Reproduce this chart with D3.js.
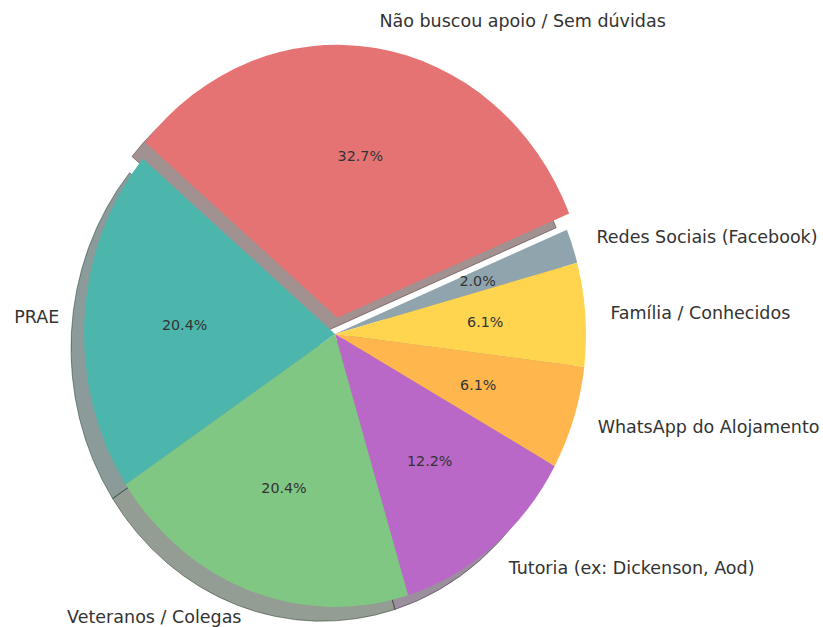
<!DOCTYPE html>
<html>
<head>
  <meta charset="utf-8">
  <title>Apoio</title>
  <script src="https://cdn.jsdelivr.net/npm/d3@7"></script>
  <style>
    body { margin: 0; background: #fff; }
    text { font-family: "DejaVu Sans", sans-serif; fill: #333; }
  </style>
</head>
<body>
  <svg width="823" height="627"></svg>
<script>

// slices in drawing order (clockwise from the start angle)
const labels = [
  'Não buscou apoio / Sem dúvidas',
  'Redes Sociais (Facebook)',
  'Família / Conhecidos',
  'WhatsApp do Alojamento',
  'Tutoria (ex: Dickenson, Aod)',
  'Veteranos / Colegas',
  'PRAE'
];
const counts = [16, 1, 3, 3, 6, 10, 10];
const colors = ['#e57373', '#90a4ae', '#ffd54f', '#ffb74d', '#ba68c8', '#81c784', '#4db6ac'];
const explode = [0.06, 0, 0, 0, 0, 0, 0];

const startDeg = 140;   // angle of the first edge, counted like matplotlib
const shadowOff = 0.052;

let svg = d3.select('svg');

// pie is slightly taller than wide in the picture
let x = d3.scaleLinear().domain([-1, 1]).range([335 - 251, 335 + 251]);
let y = d3.scaleLinear().domain([-1, 1]).range([334 + 273, 334 - 273]);

let total = d3.sum(counts);
let pie = d3.pie().sort(null).value(d => d)
  .startAngle((90 - startDeg) * Math.PI / 180)
  .endAngle((90 - startDeg + 360) * Math.PI / 180);
let arcs = pie(counts);

let arc = d3.arc().innerRadius(0).outerRadius(1);

// matplotlib style angle (ccw from +x) of a slice middle
let midAngle = a => Math.PI / 2 - (a.startAngle + a.endAngle) / 2;

let sx = (x(1) - x(-1)) / 2;
let sy = (y(-1) - y(1)) / 2;

let place = (a, i, dx, dy) => {
  let m = midAngle(a);
  let ox = explode[i] * Math.cos(m) + dx;
  let oy = explode[i] * Math.sin(m) + dy;
  return 'translate(' + x(ox) + ',' + y(oy) + ') scale(' + sx + ',' + sy + ')';
};

let shade = c => {
  let k = d3.rgb(c);
  return d3.rgb(k.r * 0.3, k.g * 0.3, k.b * 0.3);
};

// shadows first, under every wedge
arcs.forEach((a, i) => {
  svg.append('path')
    .attr('d', arc(a))
    .attr('transform', place(a, i, -shadowOff, -shadowOff))
    .style('fill', shade(colors[i]))
    .style('fill-opacity', 0.5)
    .style('stroke', shade(colors[i]))
    .style('stroke-opacity', 0.5)
    .style('stroke-width', 1)
    .attr('vector-effect', 'non-scaling-stroke');
});

arcs.forEach((a, i) => {
  svg.append('path')
    .attr('d', arc(a))
    .attr('transform', place(a, i, 0, 0))
    .style('fill', colors[i])
    .style('stroke', 'none');
});

// labels and percentages
arcs.forEach((a, i) => {
  let m = midAngle(a);
  let ex = explode[i] * Math.cos(m);
  let ey = explode[i] * Math.sin(m);
  let lx = ex + 1.1 * Math.cos(m);
  let ly = ey + 1.1 * Math.sin(m);
  svg.append('text')
    .attr('x', x(lx))
    .attr('y', y(ly))
    .attr('dy', '0.35em')
    .attr('text-anchor', lx > 0 ? 'start' : 'end')
    .style('font-size', '17.5px')
    .text(labels[i]);

  let px = ex + 0.6 * Math.cos(m);
  let py = ey + 0.6 * Math.sin(m);
  svg.append('text')
    .attr('x', x(px))
    .attr('y', y(py))
    .attr('dy', '0.35em')
    .attr('text-anchor', 'middle')
    .style('font-size', '14.3px')
    .text((counts[i] / total * 100).toFixed(1) + '%');
});

</script>
</body>
</html>
